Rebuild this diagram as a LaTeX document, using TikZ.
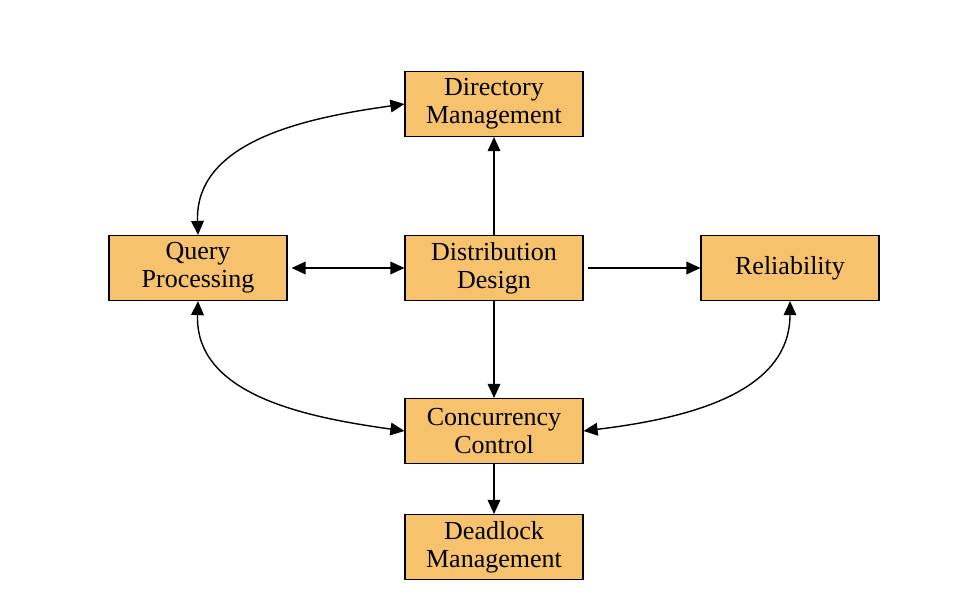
\documentclass[tikz,border=0pt]{standalone}
\usepackage{fontspec}
\setmainfont{Liberation Serif}
\usetikzlibrary{arrows.meta}
\definecolor{boxorange}{RGB}{247,194,108}
\tikzset{
  block/.style={draw=black, fill=boxorange, line width=0.8pt, minimum width=4.45cm,
    minimum height=1.625cm, align=center, inner sep=2pt,
    font=\fontsize{18.5}{20}\selectfont},
  link/.style={line width=1pt, -{Triangle[length=10pt,width=9pt]}},
  dlink/.style={line width=1pt, {Triangle[length=10pt,width=9pt]}-{Triangle[length=10pt,width=9pt]}}
}
\begin{document}
\begin{tikzpicture}
  \useasboundingbox (0,0) rectangle (24.025,14.825);
        \node[block] (dir) at (12.35,12.225) {Directory\\Management};
        \node[block] (qp) at (4.95,8.125) {Query\\Processing};
        \node[block] (dd) at (12.35,8.125) {Distribution\\Design};
        \node[block] (rel) at (19.75,8.125) {Reliability};
        \node[block] (cc) at (12.35,4.05) {Concurrency\\Control};
        \node[block] (dl) at (12.35,1.15) {Deadlock\\Management};

        \draw[link] (dd) -- (dir);
        \draw[dlink] (qp.east) ++(0.1,0) coordinate (qpe) -- (dd.west);
        \draw[link] (dd.east) ++(0.1,0) coordinate (dde) -- (rel.west);
        \draw[link] (dd) -- (cc);
        \draw[link] (cc) -- (dl);

        \draw[dlink] (qp.north) to[out=92, in=188] (dir.west);
        \draw[dlink] (qp.south) to[out=-92, in=172] (cc.west);
        \draw[dlink] (rel.south) to[out=-90, in=7] (cc.east);

\end{tikzpicture}
\end{document}
